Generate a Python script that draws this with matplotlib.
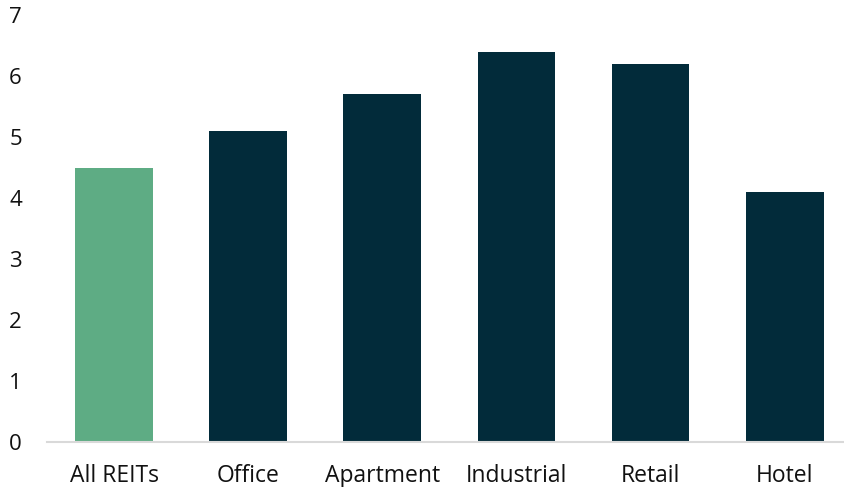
import matplotlib.pyplot as plt

# categories and values
sectors = ["All REITs", "Office", "Apartment", "Industrial", "Retail", "Hotel"]
values = [4.5, 5.1, 5.7, 6.4, 6.2, 4.1]
colors = ["#5EAC84", "#022B3A", "#022B3A", "#022B3A", "#022B3A", "#022B3A"]

plt.rcParams['font.family'] = ['Open Sans', 'DejaVu Sans']

fig = plt.figure(figsize=(8.45, 4.87), dpi=100)
ax = fig.add_axes([47 / 845, 45 / 487, 798 / 845, 427 / 487])

x = range(len(sectors))
ax.bar(x, values, width=0.58, color=colors, zorder=2)

ax.set_xlim(-0.5, 5.45)
ax.set_ylim(0, 7)
ax.set_yticks(range(0, 8))
ax.set_xticks(list(x))
ax.set_xticklabels(sectors)

for s in ["top", "right", "left"]:
    ax.spines[s].set_visible(False)
ax.spines["bottom"].set_color("#D9D9D9")
ax.spines["bottom"].set_linewidth(1.5)

ax.tick_params(axis="both", length=0, labelsize=16, colors="#111111")
ax.tick_params(axis="y", pad=18)
ax.tick_params(axis="x", pad=16, labelsize=16.5)

fig.savefig("out.png", dpi=100)
